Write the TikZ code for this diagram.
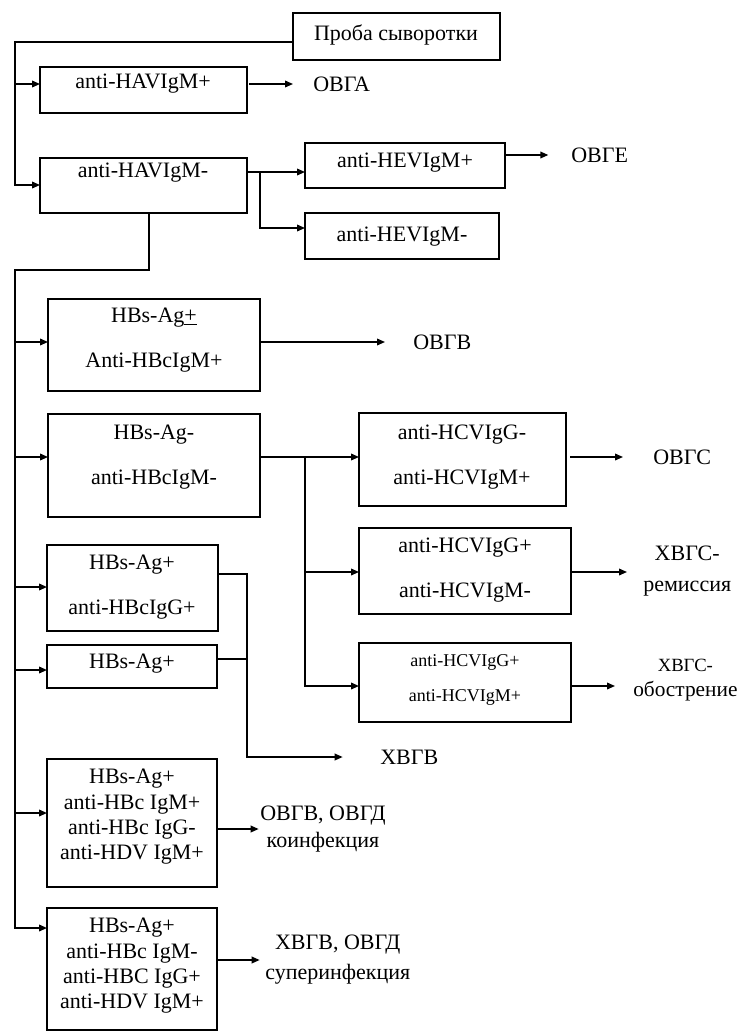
\documentclass[tikz,border=0pt]{standalone}
\usepackage{fontspec}
\setmainfont{Liberation Serif}
\usetikzlibrary{arrows.meta}
\newcommand\mkbox[5]{\node[box, minimum width={(#4-#2)*0.75pt}, minimum height={(#5-#3)*0.75pt}] (#1) at ({(#2+#4)/2},{(#3+#5)/2}) {};}
\begin{document}
\begin{tikzpicture}[x=0.75pt,y=-0.75pt,
  box/.style={draw, line width=1.1pt, inner sep=0pt, outer sep=0pt},
  ln/.style={line width=1.1pt},
  arr/.style={line width=1.1pt, -{Triangle[length=6pt,width=5pt]}},
  txt/.style={inner sep=0pt, align=center, font=\fontsize{16.5}{20}\selectfont},
  txtb/.style={inner sep=0pt, align=center, font=\fontsize{16.5}{33.75}\selectfont},
  txtc/.style={inner sep=0pt, align=center, font=\fontsize{16.5}{19}\selectfont},
  txts/.style={inner sep=0pt, align=center, font=\fontsize{13.5}{26}\selectfont},
  lbl/.style={inner sep=0pt, align=center, font=\fontsize{16.5}{#1}\selectfont},
  lblo/.style={inner sep=0pt, align=center, font=\fontsize{16}{19}\selectfont},
]
\useasboundingbox (0,0) rectangle (742,1032);
% boxes
\mkbox{proba}{293}{13}{500}{60}
\mkbox{havp}{40}{67}{247}{113}
\mkbox{havm}{40}{158}{247}{213}
\mkbox{hevp}{305}{143}{505}{188}
\mkbox{hevm}{305}{213}{499}{259}
\mkbox{hbspm}{48}{299}{260}{391}
\mkbox{hbsm}{48}{414}{260}{517}
\mkbox{hcv1}{359}{413}{566}{506}
\mkbox{hcv2}{359}{528}{571}{614}
\mkbox{hcv3}{359}{643}{571}{722}
\mkbox{hbsp2}{47}{545}{218}{631}
\mkbox{hbsp1}{47}{645}{217}{688}
\mkbox{coinf}{47}{759}{217}{887}
\mkbox{super}{47}{908}{217}{1030}
% box texts
\node[txt] (tproba) at (396,35) {Проба сыворотки};
\node[txt] (thavp) at (143,84) {anti-HAVIgM+};
\node[txt] (thavm) at (143,173) {anti-HAVIgM-};
\node[txt] (thevp) at (405,163) {anti-HEVIgM+};
\node[txt] (thevm) at (402,237) {anti-HEVIgM-};
\node[txtb] (thbspm) at (154,340) {HBs-Ag\underline{+}\\Anti-HBcIgM+};
\node[txtb] (thbsm) at (154,457) {HBs-Ag-\\anti-HBcIgM-};
\node[txtb] (thcv1) at (462,457) {anti-HCVIgG-\\anti-HCVIgM+};
\node[txtb] (thcv2) at (465,570) {anti-HCVIgG+\\anti-HCVIgM-};
\node[txts] (thcv3) at (465,680) {anti-HCVIgG+\\anti-HCVIgM+};
\node[txtb] (thbsp2) at (132,587) {HBs-Ag+\\anti-HBcIgG+};
\node[txt] (thbsp1) at (132,664) {HBs-Ag+};
\node[txtc] (tcoinf) at (132,817) {HBs-Ag+\\anti-HBc IgM+\\anti-HBc IgG-\\anti-HDV IgM+};
\node[txtc] (tsuper) at (132,966) {HBs-Ag+\\anti-HBc IgM-\\anti-HBC IgG+\\anti-HDV IgM+};
% outcome labels
\node[txt, anchor=west] (ovga) at (313,84) {ОВГА};
\node[txt, anchor=west] (ovge) at (571,155) {ОВГЕ};
\node[txt, anchor=west] (ovgb) at (413,342) {ОВГВ};
\node[txt, anchor=west] (ovgc) at (653,457) {ОВГС};
\node[lbl=23, anchor=west] (rem) at (643,571) {ХВГС-\\ремиссия};
\node[lblo, anchor=west] (obo) at (633,680) {{\fontsize{14}{19}\selectfont ХВГС-}\\обострение};
\node[txt, anchor=west] (xvgb) at (380,757) {ХВГВ};
\node[lbl=20, anchor=west] (koinf) at (260,829) {ОВГВ, ОВГД\\коинфекция};
\node[lbl=22.5, anchor=west] (superinf) at (265,960) {ХВГВ, ОВГД\\суперинфекция};
% first trunk
\coordinate (tA) at (15,42);
\coordinate (tB) at (15,84);
\coordinate (tC) at (15,185);
\draw[arr] (tA -| proba.west) -- (tA) -- (tC) -- (tC -| havm.west);
\draw[arr] (tB) -- (tB -| havp.west);
\draw[arr, shorten <=1.5pt, shorten >=15pt] (havp.east |- ovga) -- (ovga.west);
% HEV branch
\coordinate (hA) at (260,172);
\coordinate (hB) at (260,228);
\draw[arr] (hA -| havm.east) -- (hA -| hevp.west);
\draw[arr] (hA) -- (hB) -- (hB -| hevm.west);
\draw[arr, shorten >=17pt] (hevp.east |- ovge) -- (ovge.west);
% second trunk
\coordinate (tD) at (149,270);
\coordinate (tE) at (15,270);
\coordinate (tF) at (15,342);
\coordinate (tG) at (15,457);
\coordinate (tH) at (15,587);
\coordinate (tI) at (15,670);
\coordinate (tJ) at (15,813);
\coordinate (tK) at (15,928);
\draw[arr] (tD |- havm.south) -- (tD) -- (tE) -- (tK) -- (tK -| super.west);
\draw[arr] (tF) -- (tF -| hbspm.west);
\draw[arr] (tG) -- (tG -| hbsm.west);
\draw[arr] (tH) -- (tH -| hbsp2.west);
\draw[arr] (tI) -- (tI -| hbsp1.west);
\draw[arr] (tJ) -- (tJ -| coinf.west);
\draw[arr, shorten >=21pt] (hbspm.east |- ovgb) -- (ovgb.west);
% HCV branch
\coordinate (cA) at (305,457);
\coordinate (cB) at (305,572);
\coordinate (cC) at (305,686);
\draw[arr] (hbsm.east |- cA) -- (cA -| hcv1.west);
\draw[arr] (cA) -- (cC) -- (cC -| hcv3.west);
\draw[arr] (cB) -- (cB -| hcv2.west);
\draw[arr, shorten <=3pt, shorten >=22.5pt] (hcv1.east |- ovgc) -- (ovgc.west);
\draw[arr, shorten >=12pt] (hcv2.east |- cB) -- (cB -| rem.west);
\draw[arr, shorten >=13.5pt] (hcv3.east |- cC) -- (cC -| obo.west);
% HBs+ merge
\coordinate (vA) at (247,574);
\coordinate (vB) at (247,659);
\coordinate (vC) at (247,757);
\draw[arr, shorten >=28pt] (hbsp2.east |- vA) -- (vA) -- (vC) -- (vC -| xvgb.west);
\draw[ln] (hbsp1.east |- vB) -- (vB);
% delta outcomes
\draw[arr, shorten >=1pt] (coinf.east |- koinf) -- (koinf.west);
\draw[arr, shorten >=4pt] (super.east |- superinf) -- (superinf.west);
\end{tikzpicture}
\end{document}
